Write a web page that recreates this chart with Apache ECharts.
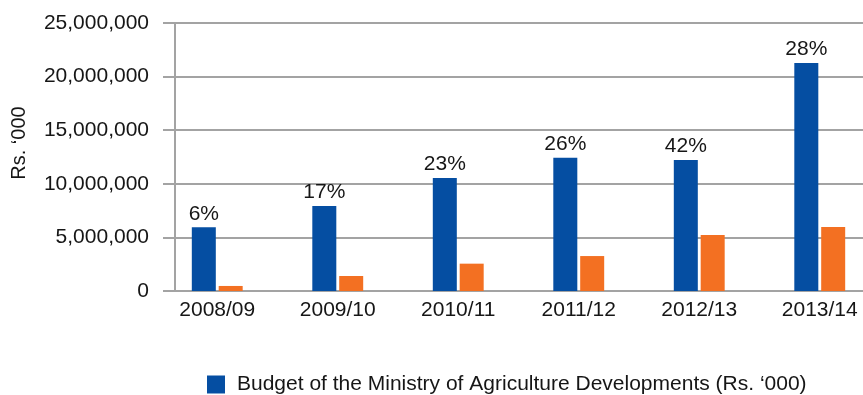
<!DOCTYPE html>
<html>
<head>
<meta charset="utf-8">
<script src="https://cdn.jsdelivr.net/npm/echarts@6/dist/echarts.min.js"></script>
<style>
  html, body { margin: 0; padding: 0; background: #fff; }
  #chart { width: 863px; height: 395px; }
</style>
</head>
<body>
<div id="chart"></div>
<script>
// Fiscal years on the category axis
const years = ['2008/09', '2009/10', '2010/11', '2011/12', '2012/13', '2013/14'];
// Budget of the Ministry of Agriculture Developments (Rs. '000)
const ministryBudget = [5950000, 7930000, 10540000, 12430000, 12220000, 21270000];
// Companion series shown in orange (not listed in the legend)
const companionValues = [470000, 1400000, 2550000, 3260000, 5220000, 5970000];
// Percentage labels written above the blue bars
const shareLabels = ['6%', '17%', '23%', '26%', '42%', '28%'];
// Value-axis range
const yMin = 0, yMax = 25000000, yStep = 5000000;

const FONT = '"Liberation Sans", Arial, Helvetica, sans-serif';
const GRID_GRAY = '#a3a3a3';
const TEXT = '#161616';
const LEGEND_NAME = 'Budget of the Ministry of Agriculture Developments (Rs. ‘000)';

const chart = echarts.init(document.getElementById('chart'), null, { renderer: 'canvas' });

chart.setOption({
  animation: false,
  backgroundColor: '#ffffff',
  textStyle: { fontFamily: FONT },
  grid: [
    // frame with the value axis and its gridlines
    { left: 175, right: 0, top: 23, bottom: 104, outerBoundsMode: 'none' },
    // bars and category labels (plot runs past the right edge)
    { left: 157, width: 723, top: 23, bottom: 104, outerBoundsMode: 'none' }
  ],
  legend: {
    data: [LEGEND_NAME],
    left: 202,
    top: 369,
    icon: 'rect',
    itemWidth: 18,
    itemHeight: 18,
    itemGap: 8,
    textStyle: { fontFamily: FONT, fontSize: 21, color: TEXT, padding: [0, 0, 0, 7] }
  },
  xAxis: [
    { gridIndex: 0, type: 'category', data: years, show: false },
    {
      gridIndex: 1,
      type: 'category',
      data: years,
      axisLine: { show: false },
      axisTick: { show: false },
      axisLabel: { fontFamily: FONT, fontSize: 21, color: TEXT, margin: 9 }
    }
  ],
  yAxis: [
    {
      gridIndex: 0,
      type: 'value',
      min: yMin,
      max: yMax,
      interval: yStep,
      name: 'Rs. ‘000',
      nameLocation: 'middle',
      nameRotate: 90,
      nameGap: 146,
      nameTextStyle: { fontFamily: FONT, fontSize: 20, color: TEXT, padding: [0, 0, 0, 28] },
      axisLine: { show: true, lineStyle: { color: GRID_GRAY, width: 2 } },
      axisTick: { show: true, length: 12, lineStyle: { color: GRID_GRAY, width: 2 } },
      splitLine: { show: true, lineStyle: { color: GRID_GRAY, width: 2 } },
      axisLabel: {
        fontFamily: FONT,
        fontSize: 21,
        color: TEXT,
        margin: 26,
        formatter: v => v.toLocaleString('en-US')
      }
    },
    { gridIndex: 1, type: 'value', min: yMin, max: yMax, interval: yStep, show: false, splitLine: { show: false } }
  ],
  series: [
    {
      name: LEGEND_NAME,
      type: 'bar',
      xAxisIndex: 1,
      yAxisIndex: 1,
      data: ministryBudget,
      barWidth: 24,
      barGap: '12%',
      itemStyle: { color: '#054ea2' },
      label: {
        show: true,
        position: 'top',
        distance: 3,
        fontFamily: FONT,
        fontSize: 21,
        color: TEXT,
        formatter: p => shareLabels[p.dataIndex]
      }
    },
    {
      name: 'Agriculture allocation',
      type: 'bar',
      xAxisIndex: 1,
      yAxisIndex: 1,
      data: companionValues,
      barWidth: 24,
      barGap: '12%',
      itemStyle: { color: '#f37022' }
    }
  ]
});
</script>
</body>
</html>
